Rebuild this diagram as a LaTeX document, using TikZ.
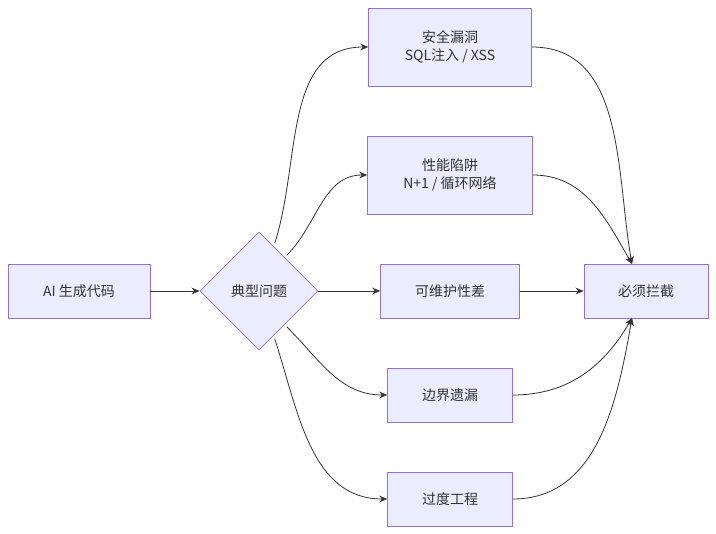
\documentclass[tikz,border=0pt]{standalone}
\usepackage{fontspec}
\setmainfont{Noto Sans CJK SC}
\usetikzlibrary{shapes.geometric,arrows.meta}
\definecolor{boxfill}{HTML}{ECECFF}
\definecolor{boxline}{HTML}{9370DB}
\definecolor{edge}{HTML}{333333}
\tikzset{
    box/.style={draw=boxline, fill=boxfill, line width=0.6pt, align=center, font=\fontsize{10.5}{14}\selectfont, text=edge},
    link/.style={draw=edge, line width=0.6pt, -{Stealth[length=6pt,width=5pt]}}
}
\begin{document}
\begin{tikzpicture}[x=0.75pt, y=-0.75pt]
    \useasboundingbox (0,0) rectangle (716,534);

    %% nodes
    \node[box, minimum width=106.5pt, minimum height=40.5pt] (ai) at (79,291){AI 生成代码};
    \node[box, diamond, minimum width=88.5pt, minimum height=88.5pt, inner sep=0pt] (prob) at (259,291){典型问题};
    \node[box, minimum width=122pt, minimum height=58.5pt] (sec) at (450,47){安全漏洞\\SQL注入 / XSS};
    \node[box, minimum width=123.5pt, minimum height=58.5pt] (perf) at (450,175){性能陷阱\\N+1 / 循环网络};
    \node[box, minimum width=104pt, minimum height=40.5pt] (maint) at (450,291){可维护性差};
    \node[box, minimum width=93.5pt, minimum height=40.5pt] (edgecase) at (450,395){边界遗漏};
    \node[box, minimum width=93.5pt, minimum height=40.5pt] (over) at (450,499){过度工程};
    \node[box, minimum width=93pt, minimum height=40.5pt] (stop) at (646,291){必须拦截};
    \coordinate (stopn) at (632,264);
    \coordinate (stops) at (632,318);

    %% edges
    \draw[link] (ai) -- (prob);
    \draw[link] (prob.north east) ++(-14,-18) to[out=72, in=180] (sec.west);
    \draw[link] (prob.north east) ++(-2,-6) to[out=45, in=180] (perf.west);
    \draw[link] (prob) -- (maint);
    \draw[link] (prob.south east) ++(-2,6) to[out=-45, in=180] (edgecase.west);
    \draw[link] (prob.south east) ++(-14,18) to[out=-72, in=180] (over.west);
    \draw[link] (sec.east) to[out=0, in=100] (stopn);
    \draw[link] (perf.east) to[out=0, in=120] (stopn);
    \draw[link] (maint) -- (stop);
    \draw[link] (edgecase.east) to[out=0, in=-120] (stops);
    \draw[link] (over.east) to[out=0, in=-100] (stops);
\end{tikzpicture}
\end{document}
